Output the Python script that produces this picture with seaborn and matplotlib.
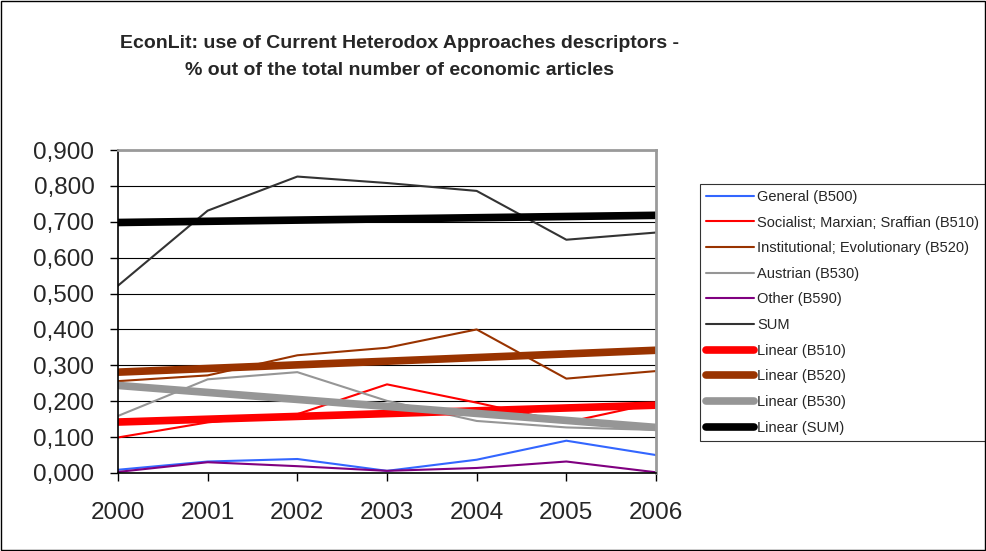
import matplotlib
matplotlib.use("Agg")
import matplotlib.pyplot as plt
import seaborn as sns
from matplotlib.ticker import FuncFormatter
from matplotlib.patches import Rectangle

# series
years = [2000, 2001, 2002, 2003, 2004, 2005, 2006]
general_b500 = [0.009, 0.032, 0.039, 0.006, 0.037, 0.090, 0.050]
socialist_b510 = [0.099, 0.141, 0.164, 0.247, 0.196, 0.141, 0.195]
institutional_b520 = [0.256, 0.272, 0.328, 0.349, 0.400, 0.263, 0.284]
austrian_b530 = [0.159, 0.261, 0.281, 0.201, 0.145, 0.127, 0.120]
other_b590 = [0.003, 0.030, 0.019, 0.006, 0.014, 0.032, 0.002]
sum_total = [0.522, 0.731, 0.826, 0.808, 0.786, 0.650, 0.670]

# trend lines (start / end values as drawn in the reference)
trend_years = [2000, 2006]
linear_b510 = [0.142, 0.189]
linear_b520 = [0.281, 0.342]
linear_b530 = [0.244, 0.127]
linear_sum = [0.698, 0.718]

y_ticks = [0.0, 0.1, 0.2, 0.3, 0.4, 0.5, 0.6, 0.7, 0.8, 0.9]

sns.set_style("white")
plt.rcParams['font.family'] = ['Liberation Sans', 'DejaVu Sans']

fig = plt.figure(figsize=(9.87, 5.51), dpi=100)
ax = fig.add_axes([118 / 987, 78 / 551, 538 / 987, 323 / 551])

thin = [
    (general_b500, '#3366FF', 'General (B500)'),
    (socialist_b510, '#FF0000', 'Socialist; Marxian; Sraffian (B510)'),
    (institutional_b520, '#993300', 'Institutional; Evolutionary (B520)'),
    (austrian_b530, '#969696', 'Austrian (B530)'),
    (other_b590, '#800080', 'Other (B590)'),
    (sum_total, '#333333', 'SUM'),
]
for vals, col, lab in thin:
    sns.lineplot(x=years, y=vals, ax=ax, color=col, linewidth=1.5, label=lab)

thick = [
    (linear_b510, '#FF0000', 'Linear (B510)'),
    (linear_b520, '#993300', 'Linear (B520)'),
    (linear_b530, '#969696', 'Linear (B530)'),
    (linear_sum, '#000000', 'Linear (SUM)'),
]
for vals, col, lab in thick:
    sns.lineplot(x=trend_years, y=vals, ax=ax, color=col, linewidth=5.5,
                 label=lab, solid_capstyle='round')

ax.set_xlim(2000, 2006)
ax.set_ylim(0, 0.9)
ax.set_xticks(years)
ax.set_xticklabels([str(y) for y in years])
ax.set_yticks(y_ticks)
ax.yaxis.set_major_formatter(FuncFormatter(lambda v, p: f"{v:.3f}".replace('.', ',')))
ax.tick_params(axis='both', which='major', labelsize=17.5, length=6, width=1,
               color='black', direction='out', left=True, bottom=True)
ax.tick_params(axis='x', pad=15)
ax.tick_params(axis='y', pad=11)
ax.grid(True, axis='y', color='black', linewidth=0.8)
ax.set_axisbelow(True)

for side in ['left', 'bottom']:
    ax.spines[side].set_color('black')
    ax.spines[side].set_linewidth(1.2)
for side in ['top', 'right']:
    ax.spines[side].set_color('#9a9a9a')
    ax.spines[side].set_linewidth(2)

leg = ax.legend(loc='upper left', bbox_to_anchor=(700 / 987, 1 - 184 / 551, 286 / 987, 0.0),
                bbox_transform=fig.transFigure, fontsize=10.5, frameon=True, fancybox=False,
                edgecolor='black', handlelength=3.3, handletextpad=0.2,
                labelspacing=0.8, borderaxespad=0, borderpad=0.4, mode='expand')
leg.get_frame().set_linewidth(0.8)

fig.text(400 / 987, 1 - 48 / 551, "EconLit: use of Current Heterodox Approaches descriptors -",
         ha='center', va='baseline', fontsize=14, weight='bold')
fig.text(400 / 987, 1 - 75 / 551, "% out of the total number of economic articles",
         ha='center', va='baseline', fontsize=14, weight='bold')

fig.patches.append(Rectangle((0.001, 0.001), 0.997, 0.997, transform=fig.transFigure,
                             fill=False, edgecolor='black', linewidth=1))

fig.savefig("out.png", dpi=100)
